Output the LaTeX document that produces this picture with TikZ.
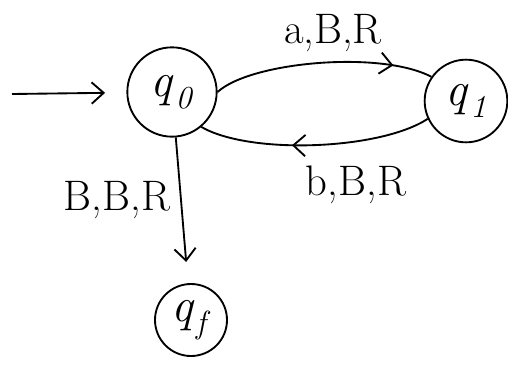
\documentclass[tikz,border=0pt]{standalone}
\usetikzlibrary{arrows.meta,decorations.markings}
\newcommand{\stname}[1]{\textit{q}\kern1pt\raisebox{-0.25em}{\fontsize{24}{28}\selectfont\textit{#1}}}
\begin{document}
\begin{tikzpicture}[x=0.75pt,y=-0.75pt,
  every path/.style={line width=1.4pt},
  state/.style={circle,draw,line width=1.4pt,inner sep=0pt,font=\fontsize{36}{40}\selectfont},
  lbl/.style={font=\fontsize{32}{36}\selectfont},
  tip/.style={-{Straight Barb[length=9pt,width=16pt,line width=1.4pt]}},
  midtip/.style={decoration={markings,mark=at position #1 with {\arrow{Straight Barb[length=9pt,width=16pt,line width=1.4pt]}}},postaction={decorate}}
]
\useasboundingbox (0,0) rectangle (508,365);
\node[state,minimum size=67pt] (q0) at (172,92) {\stname{0}};
\node[state,minimum size=62pt] (q1) at (466,101) {\stname{1}};
\node[state,minimum size=54pt] (qf) at (191,320) {\stname{f}};
\coordinate (init) at (12,94);
\draw[tip,shorten >=16pt] (init) -- (q0);
\draw[midtip=0.82] (q0.east) .. controls (250,62) and (380,50) .. (q1.145);
\draw[midtip=0.6] (q1.205) .. controls (380,150) and (250,155) .. (q0.310);
\draw[tip,shorten >=16pt] (q0) -- (qf);
\node[lbl] (la) at (333,33) {a,B,R};
\node[lbl] (lb) at (356,185) {b,B,R};
\node[lbl] (lc) at (117,200) {B,B,R};
\end{tikzpicture}
\end{document}
